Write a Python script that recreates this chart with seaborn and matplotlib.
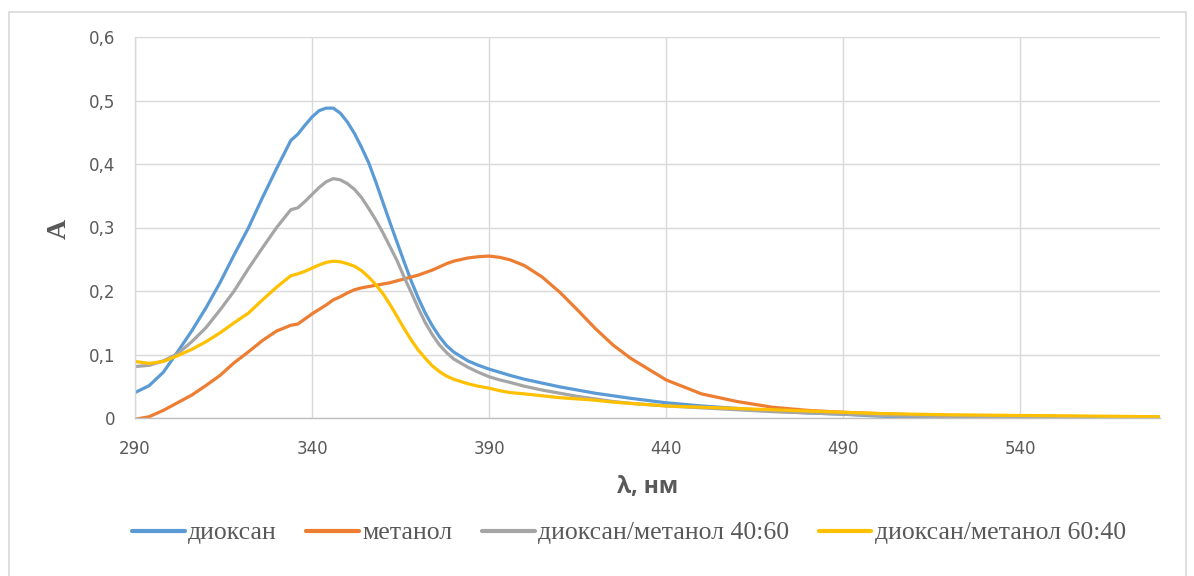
import matplotlib
matplotlib.use("Agg")
import matplotlib.pyplot as plt
from matplotlib.patches import Rectangle
import pandas as pd
import seaborn as sns

# Wavelength grid, nm
wavelength = [290, 294, 298, 302, 306, 310, 314, 318, 322, 326, 330, 334,
              336, 338, 340, 342, 344, 346, 348, 350, 352, 354, 356, 358,
              360, 362, 364, 366, 368, 370, 372, 374, 376, 378, 380,
              384, 387, 390, 393, 396, 400, 405, 410, 415, 420, 425, 430,
              440, 450, 460, 470, 480, 490, 500, 510, 520, 540, 560, 580]

# Absorbance spectra
dioxane = [0.040, 0.051, 0.072, 0.104, 0.137, 0.173, 0.213, 0.257, 0.299, 0.347, 0.393, 0.437,
           0.447, 0.461, 0.474, 0.484, 0.488, 0.488, 0.480, 0.466, 0.448, 0.426, 0.402, 0.372,
           0.340, 0.308, 0.277, 0.246, 0.216, 0.189, 0.165, 0.145, 0.128, 0.114, 0.104,
           0.090, 0.083, 0.077, 0.072, 0.067, 0.061, 0.055, 0.049, 0.044, 0.039, 0.035, 0.031,
           0.024, 0.019, 0.015, 0.011, 0.008, 0.006, 0.003, 0.001, 0.000, -0.001, 0.000, 0.001]

methanol = [-0.002, 0.002, 0.012, 0.024, 0.036, 0.051, 0.067, 0.087, 0.104, 0.122, 0.137, 0.146,
            0.148, 0.156, 0.164, 0.171, 0.178, 0.186, 0.191, 0.197, 0.202, 0.205, 0.207, 0.209,
            0.211, 0.213, 0.216, 0.219, 0.222, 0.225, 0.229, 0.233, 0.238, 0.243, 0.247,
            0.252, 0.254, 0.255, 0.253, 0.249, 0.240, 0.222, 0.198, 0.170, 0.141, 0.115, 0.094,
            0.060, 0.038, 0.026, 0.017, 0.012, 0.009, 0.007, 0.005, 0.004, 0.003, 0.002, 0.001]

mix_40_60 = [0.081, 0.083, 0.090, 0.101, 0.120, 0.142, 0.170, 0.200, 0.235, 0.268, 0.300, 0.328,
             0.331, 0.341, 0.352, 0.363, 0.372, 0.377, 0.375, 0.369, 0.360, 0.347, 0.330, 0.312,
             0.292, 0.270, 0.248, 0.222, 0.198, 0.173, 0.150, 0.131, 0.115, 0.103, 0.093,
             0.080, 0.072, 0.065, 0.060, 0.056, 0.050, 0.044, 0.039, 0.034, 0.030, 0.026, 0.023,
             0.019, 0.016, 0.013, 0.010, 0.008, 0.006, 0.004, 0.003, 0.002, 0.001, 0.001, 0.000]

mix_60_40 = [0.089, 0.086, 0.089, 0.098, 0.108, 0.120, 0.134, 0.150, 0.165, 0.186, 0.206, 0.224,
             0.227, 0.231, 0.236, 0.241, 0.245, 0.247, 0.246, 0.243, 0.239, 0.232, 0.222, 0.210,
             0.196, 0.179, 0.160, 0.141, 0.123, 0.107, 0.094, 0.082, 0.073, 0.066, 0.061,
             0.054, 0.050, 0.047, 0.043, 0.040, 0.038, 0.035, 0.032, 0.030, 0.028, 0.025, 0.023,
             0.019, 0.017, 0.015, 0.013, 0.011, 0.009, 0.007, 0.006, 0.005, 0.004, 0.003, 0.002]

series_names = ["диоксан", "метанол", "диоксан/метанол 40:60", "диоксан/метанол 60:40"]
series_values = [dioxane, methanol, mix_40_60, mix_60_40]
series_colors = ["#5B9BD5", "#ED7D31", "#A5A5A5", "#FFC000"]

x_ticks = [290, 340, 390, 440, 490, 540]
y_ticks = [0, 0.1, 0.2, 0.3, 0.4, 0.5, 0.6]

sns.set_theme(style="whitegrid")
plt.rcParams["font.family"] = ["DejaVu Sans"]

df = pd.concat(
    [pd.DataFrame({"λ": wavelength, "A": vals, "series": name})
     for name, vals in zip(series_names, series_values)],
    ignore_index=True,
)

fig = plt.figure(figsize=(11.94, 5.76), dpi=100)
ax = fig.add_axes([135 / 1194, 1 - 418 / 576, (1160 - 135) / 1194, (418 - 37) / 576])

sns.lineplot(data=df, x="λ", y="A", hue="series", hue_order=series_names,
             palette=series_colors, linewidth=2.3, ax=ax, legend=False)
for line in ax.get_lines():
    line.set_solid_joinstyle("round")

ax.set_xlim(290, 579.5)
ax.set_ylim(0, 0.6)
ax.set_xticks(x_ticks)
ax.set_yticks(y_ticks)
ax.set_yticklabels([("0" if v == 0 else f"{v:.1f}".replace(".", ",")) for v in y_ticks])
ax.set_xticklabels([str(v) for v in x_ticks])
ax.tick_params(axis="both", length=0, labelsize=12, labelcolor="#595959")
ax.tick_params(axis="x", pad=16)
ax.tick_params(axis="y", pad=14)
ax.set_xlabel("")
ax.set_ylabel("")
ax.set_facecolor("white")
ax.grid(True, color="#d9d9d9", linewidth=1)
for side in ["top", "right"]:
    ax.spines[side].set_visible(False)
ax.spines["left"].set_color("#d9d9d9")
ax.spines["left"].set_linewidth(1)
ax.spines["bottom"].set_color("#bfbfbf")
ax.spines["bottom"].set_linewidth(1)

fig.text(647.5 / 1194, 1 - 487 / 576, "λ, нм", ha="center", va="center",
         fontsize=16.5, fontweight="bold", color="#595959",
         family=["Open Sans", "DejaVu Sans"])
fig.text(59 / 1194, 1 - 229 / 576, "A", ha="center", va="center", rotation=90,
         fontsize=20, fontweight="bold", color="#595959", family="Liberation Serif")

# Chart-area frame
fig.patches.append(Rectangle((9 / 1194, -0.02), (1186 - 9) / 1194, 1 - 12 / 576 + 0.02,
                             transform=fig.transFigure, fill=False,
                             edgecolor="#d9d9d9", linewidth=1.2))

handles = [plt.Line2D([], [], color=c, linewidth=3) for c in series_colors]
fig.legend(handles, series_names, loc="center", bbox_to_anchor=(629 / 1194, 1 - 533 / 576),
           ncol=4, frameon=False, handlelength=2.05, handletextpad=0.15,
           columnspacing=1.13, prop={"family": "Liberation Serif", "size": 18.5},
           labelcolor="#595959")

fig.savefig("out.png", dpi=100)
